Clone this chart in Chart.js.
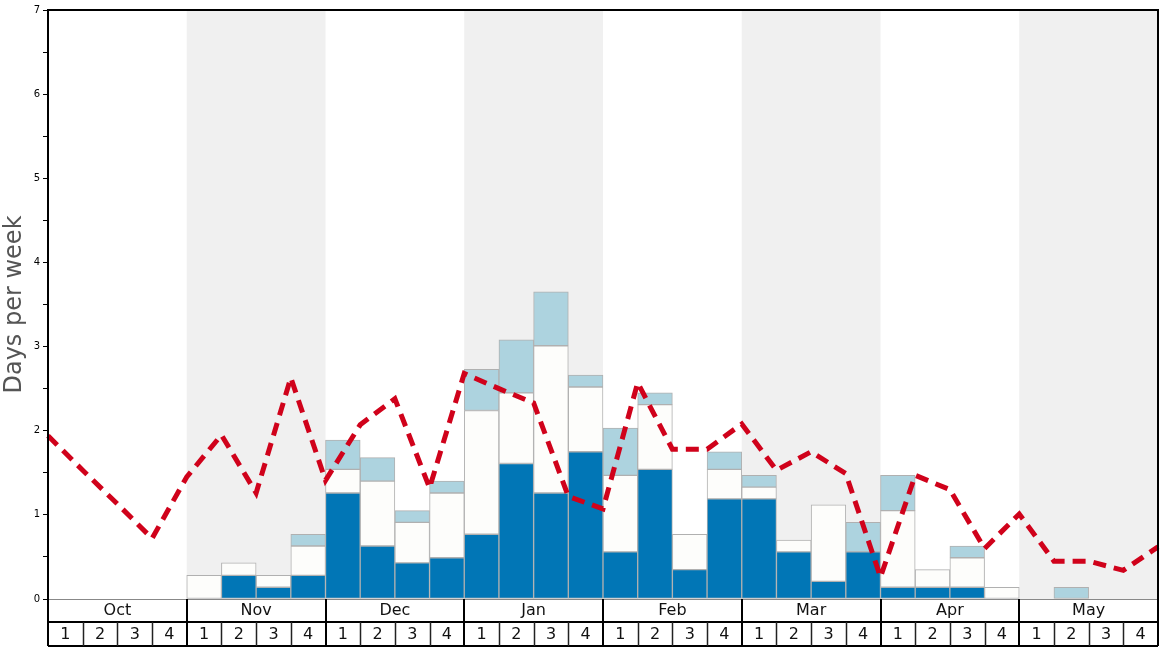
<!DOCTYPE html>
<html>
<head>
<meta charset="utf-8">
<script src="https://cdn.jsdelivr.net/npm/chart.js@4.4.1/dist/chart.umd.min.js"></script>
<style>
html,body{margin:0;padding:0;background:#fff;}
#wrap{width:1168px;height:648px;position:relative;}
</style>
</head>
<body>
<div id="wrap"><canvas id="c"></canvas></div>
<script>
const months = ['Oct','Nov','Dec','Jan','Feb','Mar','Apr','May'];
const weekNums = ['1','2','3','4'];
const shadedMonths = ['Nov','Jan','Mar','May'];

// stacked segment heights (days per week), 32 weeks Oct1..May4
const darkSeg  = [0,0,0,0, 0,0.28,0.14,0.28, 1.26,0.63,0.43,0.49, 0.77,1.61,1.26,1.75, 0.56,1.54,0.35,1.19, 1.19,0.56,0.21,0.56, 0.14,0.14,0.14,0, 0,0,0,0];
const whiteSeg = [0,0,0,0, 0.28,0.15,0.14,0.35, 0.28,0.77,0.48,0.77, 1.47,0.84,1.75,0.77, 0.91,0.77,0.42,0.35, 0.14,0.14,0.91,0, 0.91,0.21,0.35,0.14, 0,0,0,0];
const lightSeg = [0,0,0,0, 0,0,0,0.14, 0.35,0.28,0.14,0.14, 0.49,0.63,0.64,0.14, 0.56,0.14,0,0.21, 0.14,0,0,0.35, 0.42,0,0.14,0, 0,0.14,0,0];

// average line at week boundaries (33 points)
const avgLine = [1.94,1.53,1.13,0.72,1.45,1.95,1.26,2.63,1.41,2.07,2.38,1.32,2.68,2.5,2.33,1.22,1.07,2.57,1.78,1.78,2.08,1.53,1.75,1.49,0.26,1.47,1.30,0.60,1.01,0.45,0.45,0.34,0.62];

const weekLabels = [];
months.forEach(m => weekNums.forEach(w => weekLabels.push(m + ' ' + w)));
const nz = a => a.map(v => v === 0 ? null : v);

const bgPlugin = {
  id: 'bands',
  beforeDatasetsDraw(chart) {
    const {ctx, chartArea: ca, scales} = chart;
    const xl = scales.xl;
    ctx.save();
    ctx.fillStyle = '#f0f0f0';
    months.forEach((m, i) => {
      if (shadedMonths.includes(m)) {
        const x0 = xl.getPixelForValue(i * 4), x1 = xl.getPixelForValue(i * 4 + 4);
        ctx.fillRect(x0, ca.top, x1 - x0, ca.bottom - ca.top);
      }
    });
    ctx.restore();
  },
  afterDraw(chart) {
    const {ctx, chartArea: ca, scales} = chart;
    const xl = scales.xl;
    const rowTop = ca.bottom, rowMid = ca.bottom + 23, rowBot = ca.bottom + 47;
    ctx.save();
    ctx.strokeStyle = '#888';
    ctx.lineWidth = 1;
    ctx.beginPath(); ctx.moveTo(ca.left, rowTop + 0.5); ctx.lineTo(ca.right, rowTop + 0.5); ctx.stroke();
    ctx.strokeStyle = '#000';
    ctx.lineWidth = 2;
    ctx.beginPath();
    ctx.moveTo(ca.left, rowMid); ctx.lineTo(ca.right, rowMid);
    ctx.moveTo(ca.left, rowBot); ctx.lineTo(ca.right, rowBot);
    ctx.stroke();
    ctx.lineWidth = 1.5;
    ctx.strokeStyle = '#222';
    ctx.beginPath();
    for (let k = 1; k < 32; k++) {
      if (k % 4 === 0) continue;
      const x = Math.round(xl.getPixelForValue(k)) + 0.5;
      ctx.moveTo(x, rowMid); ctx.lineTo(x, rowBot);
    }
    ctx.stroke();
    ctx.lineWidth = 2;
    ctx.strokeStyle = '#000';
    ctx.beginPath();
    for (let k = 4; k < 32; k += 4) {
      const x = Math.round(xl.getPixelForValue(k));
      ctx.moveTo(x, rowTop); ctx.lineTo(x, rowBot);
    }
    ctx.stroke();
    ctx.lineWidth = 2;
    ctx.beginPath();
    ctx.moveTo(ca.left, rowBot); ctx.lineTo(ca.left, ca.top); ctx.lineTo(ca.right, ca.top); ctx.lineTo(ca.right, rowBot);
    ctx.stroke();
    ctx.fillStyle = '#111';
    ctx.font = '16px "DejaVu Sans"';
    ctx.textAlign = 'center';
    ctx.textBaseline = 'middle';
    months.forEach((m, i) => {
      const x = (xl.getPixelForValue(i * 4) + xl.getPixelForValue(i * 4 + 4)) / 2;
      ctx.fillText(m, x, rowTop + 12);
      weekNums.forEach((w, j) => {
        const k = i * 4 + j;
        const xc = (xl.getPixelForValue(k) + xl.getPixelForValue(k + 1)) / 2;
        ctx.fillText(w, xc, rowMid + 13);
      });
    });
    ctx.restore();
  }
};

const barCommon = {borderColor: '#b0b0b0', borderWidth: 1, barPercentage: 1, categoryPercentage: 1, grouped: false, borderSkipped: false, xAxisID: 'x', yAxisID: 'y', order: 2};

new Chart(document.getElementById('c'), {
  type: 'bar',
  data: {
    labels: weekLabels,
    datasets: [
      Object.assign({label: 'dark', data: nz(darkSeg), backgroundColor: '#0176b6'}, barCommon),
      Object.assign({label: 'white', data: nz(whiteSeg), backgroundColor: '#fdfdfb'}, barCommon),
      Object.assign({label: 'light', data: nz(lightSeg), backgroundColor: '#add3df'}, barCommon),
      {
        type: 'line', label: 'avg', xAxisID: 'xl', yAxisID: 'y', order: 1,
        data: avgLine.map((v, i) => ({x: i, y: v})),
        borderColor: '#d0021b', borderWidth: 5, borderDash: [13, 8],
        pointRadius: 0, tension: 0, fill: false, clip: false
      }
    ]
  },
  options: {
    responsive: true,
    maintainAspectRatio: false,
    animation: false,
    layout: {padding: {top: 10, right: 10, bottom: 49, left: 0}},
    plugins: {legend: {display: false}, tooltip: {enabled: false}},
    scales: {
      x: {display: false, stacked: true, offset: true},
      xl: {type: 'linear', display: false, min: 0, max: 32, offset: false, grid: {offset: false}},
      y: {
        stacked: true, min: 0, max: 7,
        afterFit(s) { s.width = 48; },
        border: {display: false},
        grid: {drawOnChartArea: false, drawTicks: true, tickLength: 5, color: '#000', lineWidth: 1},
        ticks: {
          stepSize: 0.5, padding: 3, color: '#000',
          font: {family: 'DejaVu Sans', size: 10},
          callback: v => Number.isInteger(v) ? String(v) : ''
        },
        title: {display: true, text: 'Days per week', color: '#555', font: {family: 'DejaVu Sans', size: 24}, padding: {top: 0, bottom: 0}}
      }
    }
  },
  plugins: [bgPlugin]
});
</script>
</body>
</html>
